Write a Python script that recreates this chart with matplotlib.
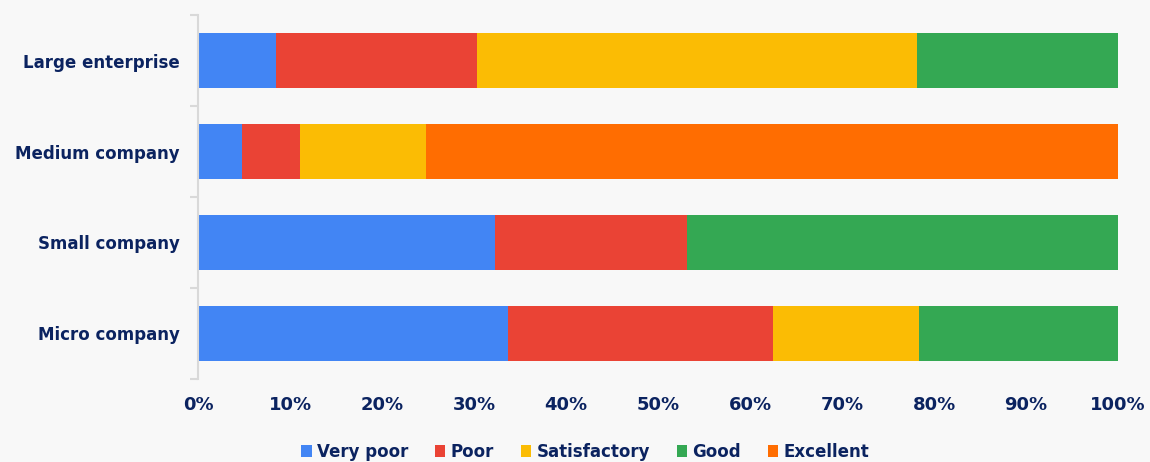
import matplotlib
matplotlib.use("Agg")
import matplotlib.pyplot as plt
import numpy as np

# share of ratings per company size (%)
companies = ["Large enterprise", "Medium company", "Small company", "Micro company"]
ratings = ["Very poor", "Poor", "Satisfactory", "Good", "Excellent"]
very_poor = [8.5, 4.8, 32.3, 33.7]
poor = [21.8, 6.3, 20.8, 28.8]
satisfactory = [47.9, 13.7, 0.0, 15.9]
good = [21.8, 0.0, 46.9, 21.6]
excellent = [0.0, 75.2, 0.0, 0.0]
xticks = [0, 10, 20, 30, 40, 50, 60, 70, 80, 90, 100]

COLORS = ["#4285f4", "#ea4335", "#fbbc04", "#34a853", "#ff6d01"]
NAVY = "#0b2360"
BG = "#f8f8f8"

fig = plt.figure(figsize=(11.5, 4.62), dpi=100)
fig.patch.set_facecolor(BG)
ax = fig.add_axes([0.1722, 0.1797, 0.8, 0.7878])
ax.set_facecolor(BG)

y = np.arange(len(companies))
left = np.zeros(len(companies))
for name, vals, c in zip(ratings, [very_poor, poor, satisfactory, good, excellent], COLORS):
    vals = np.array(vals)
    ax.barh(y, vals, left=left, height=0.6, color=c, label=name)
    left += vals

ax.set_xlim(0, 100)
ax.set_ylim(len(companies) - 0.5, -0.5)
ax.set_xticks(xticks)
ax.set_xticklabels([f"{v}%" for v in xticks], fontsize=13, fontweight="bold", color=NAVY)
ax.set_yticks(y)
ax.set_yticklabels(companies, fontsize=12, fontweight="bold", color=NAVY)
ax.tick_params(axis="x", length=0, pad=12)
ax.tick_params(axis="y", which="major", length=0, pad=13)
ax.set_yticks(np.arange(-0.5, len(companies)), minor=True)
ax.tick_params(axis="y", which="minor", length=6, width=1.5, color="#d9d9d9")
for s in ("top", "right", "bottom"):
    ax.spines[s].set_visible(False)
ax.spines["left"].set_color("#d9d9d9")
ax.spines["left"].set_linewidth(1.5)

leg = fig.legend(loc="lower center", bbox_to_anchor=(0.5087, -0.03), ncol=5, frameon=False,
                 handlelength=0.65, handleheight=0.65, handletextpad=0.3, columnspacing=1.6,
                 prop={"size": 12, "weight": "bold"})
for t in leg.get_texts():
    t.set_color(NAVY)

fig.savefig("out.png", dpi=100, facecolor=BG)
